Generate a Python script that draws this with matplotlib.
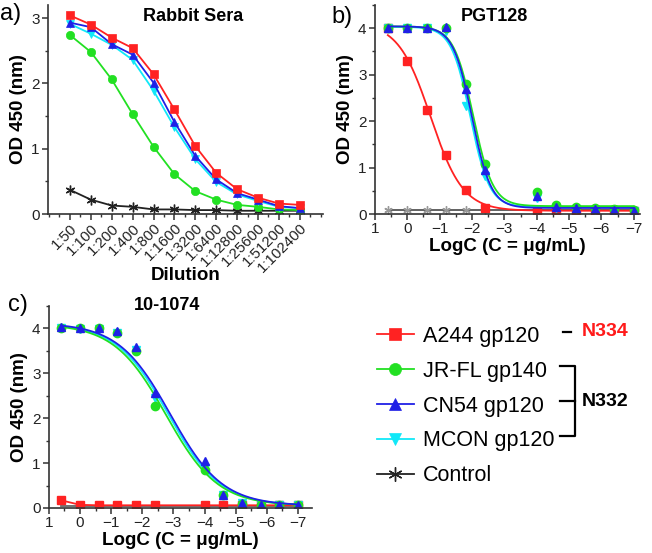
import numpy as np
import matplotlib
matplotlib.use("Agg")
import matplotlib.pyplot as plt
from matplotlib.ticker import MultipleLocator

plt.rcParams['font.family'] = ['Liberation Sans', 'DejaVu Sans']
plt.rcParams['axes.linewidth'] = 1.2
plt.rcParams['xtick.direction'] = 'out'
plt.rcParams['ytick.direction'] = 'out'

## colours and names of the five series
names = ["A244 gp120", "JR-FL gp140", "CN54 gp120", "MCON gp120", "Control"]
colors = ["#ff2222", "#22e022", "#2020e6", "#10e8f8", "#222222"]
markers = ["s", "o", "^", "v", (6, 2, 0)]

## a) Rabbit sera dilutions
dilutions = ["1:50", "1:100", "1:200", "1:400", "1:800", "1:1600", "1:3200",
             "1:6400", "1:12800", "1:25600", "1:51200", "1:102400"]
sera_a244 = [3.04, 2.90, 2.70, 2.54, 2.14, 1.60, 1.04, 0.63, 0.38, 0.25, 0.16, 0.14]
sera_jrfl = [2.74, 2.48, 2.06, 1.53, 1.03, 0.61, 0.35, 0.22, 0.14, 0.11, 0.07, 0.06]
sera_cn54 = [2.93, 2.86, 2.60, 2.44, 2.01, 1.41, 0.89, 0.53, 0.32, 0.22, 0.12, 0.09]
sera_mcon = [2.91, 2.76, 2.59, 2.36, 1.89, 1.33, 0.84, 0.49, 0.30, 0.20, 0.11, 0.09]
sera_ctrl = [0.37, 0.22, 0.13, 0.11, 0.07, 0.07, 0.06, 0.06, 0.05, 0.05, 0.05, 0.05]

## b) PGT128 and c) 10-1074, log concentration
logc = [0.6, 0.0, -0.6, -1.2, -1.8, -2.4, -4.0, -4.6, -5.2, -5.8, -6.4, -7.0]

pgt_a244 = [4.00, 3.30, 2.24, 1.26, 0.52, 0.14, 0.08, 0.07, 0.07, 0.07, 0.07, 0.07]
pgt_jrfl = [4.00, 4.00, 4.00, 4.00, 2.80, 1.08, 0.47, 0.20, 0.15, 0.12, 0.10, 0.08]
pgt_cn54 = [4.00, 4.00, 4.00, 4.02, 2.69, 0.95, 0.38, 0.15, 0.12, 0.10, 0.08, 0.07]
pgt_mcon = [4.00, 4.00, 4.00, 3.93, 2.33, 0.81, 0.35, 0.12, 0.10, 0.09, 0.08, 0.07]
pgt_ctrl = [0.08, 0.08, 0.08, 0.08, 0.08, 0.08, 0.08, 0.08, 0.08, 0.08, 0.08, 0.08]

nab_a244 = [0.17, 0.07, 0.06, 0.06, 0.06, 0.06, 0.06, 0.06, 0.06, 0.06, 0.06, 0.06]
nab_jrfl = [4.00, 4.00, 4.00, 3.90, 3.50, 2.27, 0.85, 0.28, 0.08, 0.06, 0.06, 0.06]
nab_cn54 = [4.03, 4.01, 4.00, 3.93, 3.59, 2.55, 1.05, 0.28, 0.11, 0.07, 0.06, 0.06]
nab_mcon = [4.00, 3.98, 3.98, 3.90, 3.52, 2.45, 0.90, 0.28, 0.10, 0.07, 0.06, 0.06]
nab_ctrl = [0.05, 0.05, 0.05, 0.05, 0.05, 0.05, 0.05, 0.05, 0.05, 0.05, 0.05, 0.05]

## sigmoid fit parameters: top, bottom, midpoint, slope
pgt_fits = {"A244 gp120": (4.12, 0.07, -0.72, 2.0),
            "MCON gp120": (4.03, 0.15, -1.95, 3.4),
            "JR-FL gp140": (4.04, 0.17, -2.04, 3.3),
            "CN54 gp120": (4.04, 0.13, -2.00, 3.4)}
nab_fits = {"JR-FL gp140": (4.10, 0.05, -2.76, 1.2),
            "MCON gp120": (4.11, 0.05, -2.84, 1.2),
            "CN54 gp120": (4.12, 0.05, -2.90, 1.2)}


def sigmoid(x, top, bottom, mid, k):
    return bottom + (top - bottom) / (1 + np.exp(-k * (x - mid)))


def style_axes(ax):
    ax.spines['top'].set_visible(False)
    ax.spines['right'].set_visible(False)
    for s in ['left', 'bottom']:
        ax.spines[s].set_color('#333333')
    ax.tick_params(which='major', length=4, width=1.1, labelsize=11,
                   colors='#333333', labelcolor='#222222', pad=2)
    ax.tick_params(which='minor', length=2.5, width=1.0, colors='#333333')
    ax.set_ylabel('OD 450 (nm)', fontsize=13.5, fontweight='bold', labelpad=3)


fig = plt.figure(figsize=(6.52, 5.53), dpi=100)

# ---------- a) Rabbit Sera ----------
ax1 = fig.add_axes([0.0736, 0.613, 0.4214, 0.378])
xpos = np.arange(len(dilutions))
sera = {"Control": sera_ctrl, "JR-FL gp140": sera_jrfl, "MCON gp120": sera_mcon,
        "CN54 gp120": sera_cn54, "A244 gp120": sera_a244}
handles = {}
for name, vals in sera.items():
    i = names.index(name)
    ms = 6 if name != "Control" else 7
    line, = ax1.plot(xpos, vals, color=colors[i], marker=markers[i], ms=ms,
                     lw=1.3, mew=1.0 if name == "Control" else 0.5,
                     mec=colors[i], label=name)
    handles[name] = line
ax1.set_xlim(-1.05, 12.1)
ax1.set_ylim(0, 3.2)
ax1.set_xticks(xpos)
ax1.set_xticklabels(dilutions, rotation=45, ha='right', rotation_mode='anchor')
ax1.xaxis.set_minor_locator(MultipleLocator(0.5))
ax1.yaxis.set_major_locator(MultipleLocator(1))
ax1.yaxis.set_minor_locator(MultipleLocator(0.5))
style_axes(ax1)
ax1.tick_params(axis='x', which='major', labelsize=10.8, pad=1)
ax1.set_xlabel('Dilution', fontsize=13.5, fontweight='bold')
ax1.xaxis.set_label_coords(0.5, -0.255)
ax1.text(0.53, 0.985, 'Rabbit Sera', transform=ax1.transAxes, ha='center',
         va='top', fontsize=13, fontweight='bold')
fig.text(0.0, 0.975, 'a)', fontsize=17, va='center')

# ---------- b) PGT128 ----------
ax2 = fig.add_axes([0.575, 0.613, 0.407, 0.378])
xfit = np.linspace(0.6, -7.0, 300)
pgt = {"Control": pgt_ctrl, "A244 gp120": pgt_a244, "MCON gp120": pgt_mcon,
       "JR-FL gp140": pgt_jrfl, "CN54 gp120": pgt_cn54}
for name, vals in pgt.items():
    i = names.index(name)
    if name == "Control":
        ax2.plot(logc, vals, color='#555555', marker=markers[i], ms=6,
                 mec='#999999', lw=1.3)
        continue
    ax2.plot(xfit, sigmoid(xfit, *pgt_fits[name]), color=colors[i], lw=1.3)
    ax2.plot(logc, vals, ls='none', color=colors[i], marker=markers[i], ms=6,
             mec=colors[i])
ax2.set_xlim(1, -7.2)
ax2.set_ylim(0, 4.5)
ax2.xaxis.set_major_locator(MultipleLocator(1))
ax2.xaxis.set_minor_locator(MultipleLocator(0.5))
ax2.yaxis.set_major_locator(MultipleLocator(1))
ax2.yaxis.set_minor_locator(MultipleLocator(0.5))
style_axes(ax2)
ax2.set_xlabel('LogC (C = \u03bcg/mL)', fontsize=13.5, fontweight='bold', labelpad=1)
ax2.text(0.45, 0.985, 'PGT128', transform=ax2.transAxes, ha='center',
         va='top', fontsize=13, fontweight='bold')
fig.text(0.509, 0.97, 'b)', fontsize=17, va='center')

# ---------- c) 10-1074 ----------
ax3 = fig.add_axes([0.075, 0.0814, 0.4035, 0.3656])
nab = {"Control": nab_ctrl, "A244 gp120": nab_a244, "MCON gp120": nab_mcon,
       "JR-FL gp140": nab_jrfl, "CN54 gp120": nab_cn54}
for name, vals in nab.items():
    i = names.index(name)
    if name == "Control":
        ax3.plot(logc, vals, color='#666666', lw=1.3)
        continue
    if name == "A244 gp120":
        ax3.plot(logc, vals, color=colors[i], marker=markers[i], ms=6, lw=1.3,
                 mec=colors[i])
        continue
    ax3.plot(xfit, sigmoid(xfit, *nab_fits[name]), color=colors[i], lw=1.3)
    ax3.plot(logc, vals, ls='none', color=colors[i], marker=markers[i], ms=6,
             mec=colors[i])
ax3.set_xlim(1, -7.45)
ax3.set_ylim(0, 4.5)
ax3.xaxis.set_major_locator(MultipleLocator(1))
ax3.xaxis.set_minor_locator(MultipleLocator(0.5))
ax3.yaxis.set_major_locator(MultipleLocator(1))
ax3.yaxis.set_minor_locator(MultipleLocator(0.5))
style_axes(ax3)
ax3.set_xlabel('LogC (C = \u03bcg/mL)', fontsize=13.5, fontweight='bold', labelpad=1)
ax3.text(0.45, 1.0, '10-1074', transform=ax3.transAxes, ha='center',
         va='center', fontsize=13, fontweight='bold')
fig.text(0.012, 0.448, 'c)', fontsize=17, va='center')

# ---------- legend ----------
leg = fig.legend([handles[n] for n in names], names, loc='upper left',
                 bbox_to_anchor=(377 / 652, 1 - 326 / 553), frameon=False,
                 fontsize=15.5, markerscale=1.45, handlelength=1.7,
                 handletextpad=0.42, labelspacing=0.64, borderpad=0,
                 borderaxespad=0)

# brackets for glycan sites, drawn in pixel space
ov = fig.add_axes([0, 0, 1, 1])
ov.set_xlim(0, 652)
ov.set_ylim(553, 0)
ov.axis('off')
ov.plot([563, 571], [332, 332], color='black', lw=1.6)
ov.text(582, 332, 'N334', color='#ff1a1a', fontsize=14, fontweight='bold', va='center')
ov.plot([560, 575, 575, 560], [366, 366, 436, 436], color='black', lw=1.6)
ov.plot([560, 575], [401, 401], color='black', lw=1.6)
ov.text(582, 402, 'N332', color='black', fontsize=14, fontweight='bold', va='center')

fig.savefig('out.png', dpi=100)
